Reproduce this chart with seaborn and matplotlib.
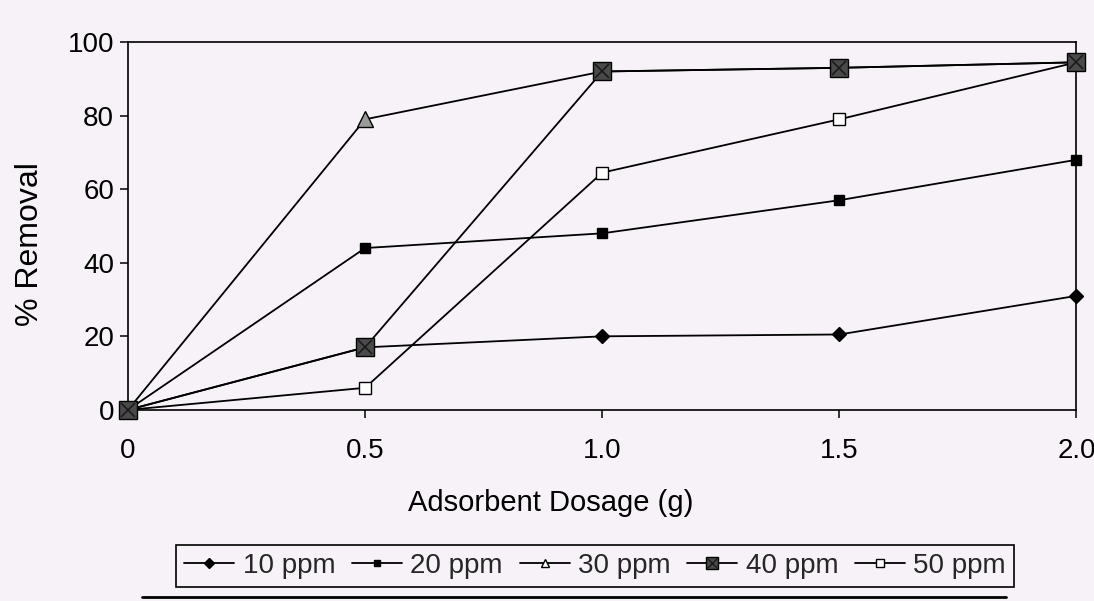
import pandas as pd
import matplotlib.pyplot as plt
import seaborn as sns
from matplotlib.lines import Line2D
from matplotlib.legend_handler import HandlerTuple

dosage = [0, 0.5, 1.0, 1.5, 2.0]
ppm_10 = [0, 17, 20, 20.5, 31]
ppm_20 = [0, 44, 48, 57, 68]
ppm_30 = [0, 79, 92, 93, 94.5]
ppm_40 = [0, 17, 92, 93, 94.5]
ppm_50 = [0, 6, 64.5, 79, 94.5]
names = ['10 ppm', '20 ppm', '30 ppm', '40 ppm', '50 ppm']
x_ticks = [0, 0.5, 1.0, 1.5, 2.0]
x_tick_labels = ['0', '0.5', '1.0', '1.5', '2.0']
y_ticks = [0, 20, 40, 60, 80, 100]

rows = []
for name, vals in zip(names, [ppm_10, ppm_20, ppm_30, ppm_40, ppm_50]):
    for d, v in zip(dosage, vals):
        rows.append({'dosage': d, 'removal': v, 'series': name})
df = pd.DataFrame(rows)

sns.set_style('white')
plt.rcParams['font.family'] = ['Liberation Sans', 'DejaVu Sans']

bg = '#f6f2f7'
styles = {
    '10 ppm': dict(marker='D', ms=7, mfc='black', mec='black', zorder=3),
    '20 ppm': dict(marker='s', ms=7, mfc='black', mec='black', zorder=3),
    '30 ppm': dict(marker='^', ms=11, mfc='#9a9a9a', mec='black', zorder=3),
    '40 ppm': dict(marker='s', ms=13, mfc='#4a4a4a', mec='black', zorder=5),
    '50 ppm': dict(marker='s', ms=9, mfc='white', mec='black', zorder=4),
}

fig = plt.figure(figsize=(10.94, 6.01), dpi=100, facecolor=bg)
ax = fig.add_axes([0.117, 0.318, 0.867, 0.612], facecolor=bg)

for name in names:
    st = styles[name]
    sns.lineplot(data=df[df['series'] == name], x='dosage', y='removal', ax=ax,
                 color='black', lw=1.3, marker=st['marker'], markersize=st['ms'],
                 markerfacecolor=st['mfc'], markeredgecolor=st['mec'],
                 markeredgewidth=1.0, errorbar=None, clip_on=False,
                 zorder=st['zorder'], legend=False)

# cross inside the 40 ppm squares
ax.plot(dosage, ppm_40, ls='none', marker='x', ms=10, mew=1.2, color='#1a1a1a',
        clip_on=False, zorder=6)

ax.set_xlim(0, 2.0)
ax.set_ylim(0, 100)
ax.set_xticks(x_ticks)
ax.set_xticklabels(x_tick_labels)
ax.set_yticks(y_ticks)
ax.tick_params(axis='both', direction='out', length=6, width=1.1, color='black',
               labelsize=20, labelcolor='black')
ax.tick_params(axis='x', pad=14)
ax.tick_params(axis='y', pad=4)
ax.tick_params(left=True, bottom=True)
for sp in ax.spines.values():
    sp.set_visible(True)
    sp.set_color('black')
    sp.set_linewidth(1.2)

ax.set_xlabel('Adsorbent Dosage (g)', fontsize=21, color='black')
ax.xaxis.set_label_coords(0.446, -0.215)
ax.set_ylabel('% Removal', fontsize=23, color='black')
ax.yaxis.set_label_coords(-0.088, 0.45)

handles = []
for name in names:
    st = styles[name]
    small = {'10 ppm': 5, '20 ppm': 5, '30 ppm': 6, '40 ppm': 9, '50 ppm': 6}[name]
    h = Line2D([], [], color='black', lw=1.3, marker=st['marker'], ms=small,
               mfc=st['mfc'] if name != '30 ppm' else 'white', mec='black', mew=1.0)
    if name == '40 ppm':
        hx = Line2D([], [], ls='none', marker='x', ms=7, mew=1.0, color='#1a1a1a')
        h = (h, hx)
    handles.append(h)

leg = fig.legend(handles, names, loc='center', bbox_to_anchor=(0.544, 0.058), ncol=5,
                 fontsize=20, frameon=True, fancybox=False, edgecolor='black',
                 facecolor=bg, framealpha=1, handlelength=1.8, handletextpad=0.3,
                 columnspacing=0.6, borderpad=0.3,
                 handler_map={tuple: HandlerTuple(ndivide=1)})
leg.get_frame().set_linewidth(1.2)

fig.add_artist(Line2D([0.13, 0.92], [0.006, 0.006], transform=fig.transFigure,
                      color='black', lw=2))

fig.savefig('out.png', dpi=100, facecolor=bg)
